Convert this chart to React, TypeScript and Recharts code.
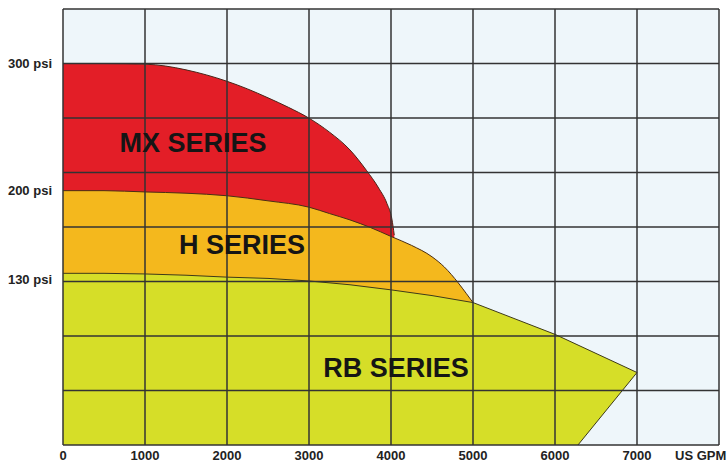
import { ComposedChart, Area, XAxis, YAxis, CartesianGrid, ReferenceDot } from 'recharts';

// flow (US GPM) vs pressure (psi) envelopes
const mxFlow = [0, 500, 1000, 1250, 1500, 1750, 2000, 2250, 2500, 2750, 3000, 3250, 3500, 3700, 3850, 3950, 4010, 4040];
const mxPsi = [300, 300, 299.5, 298, 295, 291, 286, 280, 273, 265.5, 257, 246, 232, 216, 202, 190, 178, 165];

const hFlow = [0, 500, 1000, 1500, 2000, 2500, 3000, 3250, 3500, 3750, 4000, 4250, 4500, 4650, 4820, 4920, 5000];
const hPsi = [200, 200, 199, 198, 196, 192, 187, 182, 177, 171, 164, 157, 148, 140, 127.5, 119, 112];

const rbFlow = [0, 500, 1000, 1500, 2000, 2500, 3000, 3500, 4000, 4500, 5000, 6000, 7000, 6280];
const rbPsi = [135, 135, 134.5, 133.5, 132, 131, 129, 126, 122, 117.5, 112, 87, 57, 0];

const xTicks = [0, 1000, 2000, 3000, 4000, 5000, 6000, 7000, 8000];
const yTicks = [130, 200, 300];
const yMax = 2400 / 7;
const gridRows = [0, 1, 2, 3, 4, 5, 6, 7, 8].map((i) => (i * 300) / 7);

const seriesNames = ['MX SERIES', 'H SERIES', 'RB SERIES'];
const labelFlow = [1585, 2183, 4060];
const labelPsi = [238, 158, 61];

const toPoints = (xs: number[], ys: number[]) => xs.map((x, i) => ({ x, y: ys[i] }));
const mxData = toPoints(mxFlow, mxPsi);
const hData = toPoints(hFlow, hPsi);
const rbData = toPoints(rbFlow, rbPsi);

const FONT = '"Liberation Sans", Arial, sans-serif';

const XTick = (props: any) => {
  const { x, y, payload } = props;
  const isUnit = payload.value === 8000;
  return (
    <text
      x={isUnit ? x - 44 : x}
      y={y}
      dy="0.71em"
      textAnchor={isUnit ? 'start' : 'middle'}
      fontSize={13}
      fontWeight={700}
      fontFamily={FONT}
      fill="#222"
    >
      {isUnit ? 'US GPM' : payload.value}
    </text>
  );
};

export default function App() {
  return (
    <div style={{ position: 'absolute', left: 0, top: 0, width: 728, height: 463, background: '#fff' }}>
      <ComposedChart width={728} height={463} margin={{ top: 9, right: 9, left: 0, bottom: 0 }}>
        <CartesianGrid fill="#eef6fa" horizontal={false} vertical={false} stroke="none" />
        <XAxis
          type="number"
          dataKey="x"
          domain={[0, 8000]}
          ticks={xTicks}
          axisLine={false}
          tickLine={false}
          height={18}
          tickSize={5}
          tickMargin={1}
          interval={0}
          tick={<XTick />}
        />
        <YAxis
          type="number"
          dataKey="y"
          domain={[0, yMax]}
          ticks={yTicks}
          axisLine={false}
          tickLine={false}
          width={63}
          tickSize={9}
          tickMargin={2}
          tickFormatter={(v: number) => `${v} psi`}
          tick={{ fontSize: 13, fontWeight: 700, fill: '#222', fontFamily: FONT }}
        />
        <Area
          data={mxData}
          dataKey="y"
          type="monotone"
          fill="#e31e27"
          fillOpacity={1}
          stroke="#4a2418"
          strokeWidth={1}
          isAnimationActive={false}
        />
        <Area
          data={hData}
          dataKey="y"
          type="monotone"
          fill="#f4b81d"
          fillOpacity={1}
          stroke="#4a2e14"
          strokeWidth={1}
          isAnimationActive={false}
        />
        <Area
          data={rbData}
          dataKey="y"
          type="linear"
          fill="#d6de28"
          fillOpacity={1}
          stroke="#3e3a18"
          strokeWidth={1}
          isAnimationActive={false}
        />
        <CartesianGrid
          zIndex={600}
          stroke="#333"
          strokeWidth={1.5}
          fill="none"
          horizontalValues={gridRows}
          verticalValues={xTicks}
        />
        {seriesNames.map((name, i) => (
          <ReferenceDot
            key={name}
            x={labelFlow[i]}
            y={labelPsi[i]}
            r={0}
            fill="none"
            stroke="none"
            zIndex={700}
            label={{
              value: name,
              position: 'center',
              fill: '#151515',
              fontSize: 27,
              fontWeight: 700,
              fontFamily: FONT,
            }}
          />
        ))}
      </ComposedChart>
    </div>
  );
}
